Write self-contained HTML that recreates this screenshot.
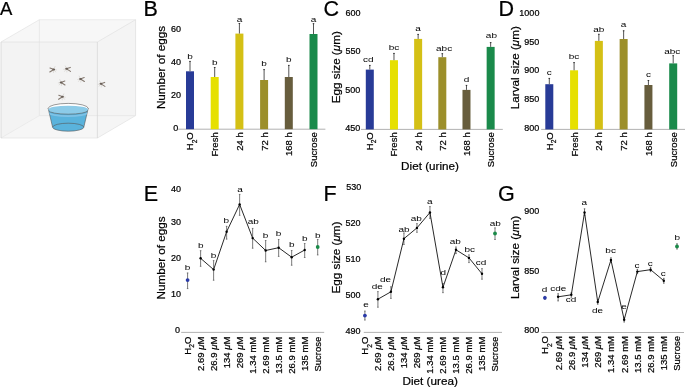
<!DOCTYPE html><html><head><meta charset="utf-8"><style>html,body{margin:0;padding:0;background:#fff;}svg{display:block;will-change:transform;} text{stroke:#000;stroke-width:0.22px;}</style></head><body>
<svg width="685" height="388" viewBox="0 0 685 388" font-family='"Liberation Sans", sans-serif' fill="#000">
<rect width="685" height="388" fill="#fff"/>
<text x="-0.1" y="14.8" font-size="18.5">A</text>
<polygon points="1,42 39.4,19.7 135.6,19.7 97.4,42" fill="#f7f7f7"/>
<polygon points="97.4,42 135.6,19.7 135.6,115.6 97.4,138" fill="#f4f4f4"/>
<rect x="1" y="42" width="96.4" height="96" fill="#f3f3f3"/>
<polygon points="1,138 39.4,115.6 97.4,115.6 97.4,138" fill="#f6f6f6"/>
<polygon points="97.4,115.6 135.6,115.6 97.4,138" fill="#f5f5f5"/>
<line x1="39.4" y1="19.7" x2="39.4" y2="115.6" stroke="#e4e4e4" stroke-width="0.7"/>
<line x1="39.4" y1="115.6" x2="135.6" y2="115.6" stroke="#e4e4e4" stroke-width="0.7"/>
<line x1="1" y1="138" x2="39.4" y2="115.6" stroke="#e6e6e6" stroke-width="0.7"/>
<line x1="1" y1="42" x2="39.4" y2="19.7" stroke="#e2e2e2" stroke-width="0.7"/>
<line x1="39.4" y1="19.7" x2="135.6" y2="19.7" stroke="#e6e6e6" stroke-width="0.7"/>
<line x1="97.4" y1="42" x2="135.6" y2="19.7" stroke="#e0e0e0" stroke-width="0.7"/>
<line x1="135.6" y1="19.7" x2="135.6" y2="115.6" stroke="#dcdcdc" stroke-width="0.7"/>
<line x1="97.4" y1="138" x2="135.6" y2="115.6" stroke="#e2e2e2" stroke-width="0.7"/>
<line x1="1" y1="42" x2="97.4" y2="42" stroke="#e0e0e0" stroke-width="0.7"/>
<line x1="1" y1="138" x2="97.4" y2="138" stroke="#e2e2e2" stroke-width="0.7"/>
<line x1="1" y1="42" x2="1" y2="138" stroke="#d4d4d4" stroke-width="0.8"/>
<line x1="97.4" y1="42" x2="97.4" y2="138" stroke="#d8d8d8" stroke-width="0.8"/>
<path d="M48.2,108.4 L52.6,127.2 A15.6,4 0 0 0 83.8,127.2 L88.2,108.4 Z" fill="#5ab3dc" stroke="#555" stroke-width="0.6"/>
<ellipse cx="68.2" cy="108.4" rx="20" ry="5" fill="#ffffff" stroke="#555" stroke-width="0.6"/>
<path d="M48.9,110.6 A19.3,3.6 0 0 0 87.5,110.6 L88.0,109.6 A19.8,3.9 0 0 0 48.4,109.6 Z" fill="#8ccbe8"/>
<path d="M49.0,111.8 L49.5,113.8 A18.7,3.2 0 0 0 86.9,113.8 L87.4,111.8 A19.2,3.5 0 0 1 49.0,111.8 Z" fill="#7fc2e6"/>
<path d="M48.9,110.6 A19.3,3.6 0 0 0 87.5,110.6" fill="none" stroke="#555" stroke-width="0.6"/>
<path d="M52.6,127.2 A15.6,4 0 0 1 83.8,127.2" fill="none" stroke="#555" stroke-width="0.6"/>
<g transform="translate(53.7,69.4) scale(-1,1)"><g stroke="#b8b0a8" stroke-width="0.35" fill="none"><path d="M0,0 L-1.5,-3.2"/><path d="M0,0 L-2.2,2.8"/><path d="M0.6,0.4 L0.2,3.6"/><path d="M-0.4,0 L-3.2,0.6"/></g><g stroke="#857a71" stroke-width="1.1" stroke-linecap="round" fill="none"><path d="M0.4,-0.2 L3.7,-1.4"/><path d="M0.4,0.3 L3.9,2.6"/></g><ellipse cx="0" cy="0" rx="1.4" ry="1.0" fill="#685e56"/></g>
<g transform="translate(66.6,68.8) scale(1,1)"><g stroke="#b8b0a8" stroke-width="0.35" fill="none"><path d="M0,0 L-1.5,-3.2"/><path d="M0,0 L-2.2,2.8"/><path d="M0.6,0.4 L0.2,3.6"/><path d="M-0.4,0 L-3.2,0.6"/></g><g stroke="#857a71" stroke-width="1.1" stroke-linecap="round" fill="none"><path d="M0.4,-0.2 L3.7,-1.4"/><path d="M0.4,0.3 L3.9,2.6"/></g><ellipse cx="0" cy="0" rx="1.4" ry="1.0" fill="#685e56"/></g>
<g transform="translate(61.1,82.4) scale(1,1)"><g stroke="#b8b0a8" stroke-width="0.35" fill="none"><path d="M0,0 L-1.5,-3.2"/><path d="M0,0 L-2.2,2.8"/><path d="M0.6,0.4 L0.2,3.6"/><path d="M-0.4,0 L-3.2,0.6"/></g><g stroke="#857a71" stroke-width="1.1" stroke-linecap="round" fill="none"><path d="M0.4,-0.2 L3.7,-1.4"/><path d="M0.4,0.3 L3.9,2.6"/></g><ellipse cx="0" cy="0" rx="1.4" ry="1.0" fill="#685e56"/></g>
<g transform="translate(80.5,78.9) scale(1,1)"><g stroke="#b8b0a8" stroke-width="0.35" fill="none"><path d="M0,0 L-1.5,-3.2"/><path d="M0,0 L-2.2,2.8"/><path d="M0.6,0.4 L0.2,3.6"/><path d="M-0.4,0 L-3.2,0.6"/></g><g stroke="#857a71" stroke-width="1.1" stroke-linecap="round" fill="none"><path d="M0.4,-0.2 L3.7,-1.4"/><path d="M0.4,0.3 L3.9,2.6"/></g><ellipse cx="0" cy="0" rx="1.4" ry="1.0" fill="#685e56"/></g>
<g transform="translate(101,83.8) scale(1,1)"><g stroke="#b8b0a8" stroke-width="0.35" fill="none"><path d="M0,0 L-1.5,-3.2"/><path d="M0,0 L-2.2,2.8"/><path d="M0.6,0.4 L0.2,3.6"/><path d="M-0.4,0 L-3.2,0.6"/></g><g stroke="#857a71" stroke-width="1.1" stroke-linecap="round" fill="none"><path d="M0.4,-0.2 L3.7,-1.4"/><path d="M0.4,0.3 L3.9,2.6"/></g><ellipse cx="0" cy="0" rx="1.4" ry="1.0" fill="#685e56"/></g>
<g transform="translate(62.5,96.7) scale(-1,1)"><g stroke="#b8b0a8" stroke-width="0.35" fill="none"><path d="M0,0 L-1.5,-3.2"/><path d="M0,0 L-2.2,2.8"/><path d="M0.6,0.4 L0.2,3.6"/><path d="M-0.4,0 L-3.2,0.6"/></g><g stroke="#857a71" stroke-width="1.1" stroke-linecap="round" fill="none"><path d="M0.4,-0.2 L3.7,-1.4"/><path d="M0.4,0.3 L3.9,2.6"/></g><ellipse cx="0" cy="0" rx="1.4" ry="1.0" fill="#685e56"/></g>
<text x="143.5" y="15.5" font-size="21.5">B</text>
<text transform="translate(164.90,67.50) rotate(-90)" text-anchor="middle" font-size="11.7">Number of eggs</text>
<text x="181.10" y="32.12" text-anchor="end" font-size="9">60</text>
<text x="181.10" y="65.42" text-anchor="end" font-size="9">40</text>
<text x="181.10" y="98.42" text-anchor="end" font-size="9">20</text>
<text x="178.20" y="130.52" text-anchor="end" font-size="9">0</text>
<line x1="178.2" y1="129.2" x2="325.4" y2="129.2" stroke="#a8a8a8" stroke-width="0.9"/>
<rect x="186.00" y="71.30" width="8.0" height="57.90" fill="#283b97"/>
<line x1="190.00" y1="61.00" x2="190.00" y2="71.30" stroke="#555" stroke-width="1"/>
<line x1="189.20" y1="61.40" x2="190.80" y2="61.40" stroke="#222" stroke-width="0.8"/>
<text transform="translate(190.00,58.60) scale(1.43,1)" text-anchor="middle" font-size="7.0" style="stroke:none">b</text>
<rect x="210.70" y="77.00" width="8.0" height="52.20" fill="#e6e000"/>
<line x1="214.70" y1="67.10" x2="214.70" y2="77.00" stroke="#555" stroke-width="1"/>
<line x1="213.90" y1="67.50" x2="215.50" y2="67.50" stroke="#222" stroke-width="0.8"/>
<text transform="translate(214.70,64.50) scale(1.43,1)" text-anchor="middle" font-size="7.0" style="stroke:none">b</text>
<rect x="235.40" y="33.60" width="8.0" height="95.60" fill="#d4c015"/>
<line x1="239.40" y1="23.10" x2="239.40" y2="33.60" stroke="#555" stroke-width="1"/>
<line x1="238.60" y1="23.50" x2="240.20" y2="23.50" stroke="#222" stroke-width="0.8"/>
<text transform="translate(239.40,21.60) scale(1.43,1)" text-anchor="middle" font-size="7.0" style="stroke:none">a</text>
<rect x="260.10" y="80.00" width="8.0" height="49.20" fill="#9c8f2a"/>
<line x1="264.10" y1="69.20" x2="264.10" y2="80.00" stroke="#555" stroke-width="1"/>
<line x1="263.30" y1="69.60" x2="264.90" y2="69.60" stroke="#222" stroke-width="0.8"/>
<text transform="translate(264.10,65.60) scale(1.43,1)" text-anchor="middle" font-size="7.0" style="stroke:none">b</text>
<rect x="284.80" y="77.00" width="8.0" height="52.20" fill="#675d3d"/>
<line x1="288.80" y1="65.00" x2="288.80" y2="77.00" stroke="#555" stroke-width="1"/>
<line x1="288.00" y1="65.40" x2="289.60" y2="65.40" stroke="#222" stroke-width="0.8"/>
<text transform="translate(288.80,62.40) scale(1.43,1)" text-anchor="middle" font-size="7.0" style="stroke:none">b</text>
<rect x="309.50" y="34.00" width="8.0" height="95.20" fill="#1a8a4b"/>
<line x1="313.50" y1="23.30" x2="313.50" y2="34.00" stroke="#555" stroke-width="1"/>
<line x1="312.70" y1="23.70" x2="314.30" y2="23.70" stroke="#222" stroke-width="0.8"/>
<text transform="translate(313.50,21.80) scale(1.43,1)" text-anchor="middle" font-size="7.0" style="stroke:none">a</text>
<text transform="translate(193.42,132.30) rotate(-90)" text-anchor="end" font-size="9.5">H<tspan font-size="6.6" dy="3.2">2</tspan><tspan dy="-3.2">O</tspan></text>
<text transform="translate(218.12,132.30) rotate(-90)" text-anchor="end" font-size="9.5">Fresh</text>
<text transform="translate(242.82,132.30) rotate(-90)" text-anchor="end" font-size="9.5">24 h</text>
<text transform="translate(267.52,132.30) rotate(-90)" text-anchor="end" font-size="9.5">72 h</text>
<text transform="translate(292.22,132.30) rotate(-90)" text-anchor="end" font-size="9.5">168 h</text>
<text transform="translate(316.92,132.30) rotate(-90)" text-anchor="end" font-size="9.5">Sucrose</text>
<text x="323.5" y="15.5" font-size="21.5">C</text>
<text transform="translate(340.10,67.20) rotate(-90)" text-anchor="middle" font-size="11.7">Egg size (<tspan font-style="italic">μ</tspan>m)</text>
<text x="360.60" y="15.52" text-anchor="end" font-size="9">600</text>
<text x="360.60" y="53.72" text-anchor="end" font-size="9">550</text>
<text x="360.40" y="92.82" text-anchor="end" font-size="9">500</text>
<text x="360.40" y="131.22" text-anchor="end" font-size="9">450</text>
<line x1="361" y1="129.4" x2="502.8" y2="129.4" stroke="#a8a8a8" stroke-width="0.9"/>
<rect x="365.80" y="69.60" width="8.0" height="59.80" fill="#283b97"/>
<line x1="369.80" y1="65.00" x2="369.80" y2="69.60" stroke="#555" stroke-width="1"/>
<line x1="369.00" y1="65.40" x2="370.60" y2="65.40" stroke="#222" stroke-width="0.8"/>
<text transform="translate(368.20,62.30) scale(1.43,1)" text-anchor="middle" font-size="7.0" style="stroke:none">cd</text>
<rect x="389.97" y="60.20" width="8.0" height="69.20" fill="#e6e000"/>
<line x1="393.97" y1="53.00" x2="393.97" y2="60.20" stroke="#555" stroke-width="1"/>
<line x1="393.17" y1="53.40" x2="394.77" y2="53.40" stroke="#222" stroke-width="0.8"/>
<text transform="translate(393.97,50.00) scale(1.43,1)" text-anchor="middle" font-size="7.0" style="stroke:none">bc</text>
<rect x="414.14" y="38.90" width="8.0" height="90.50" fill="#d4c015"/>
<line x1="418.14" y1="34.00" x2="418.14" y2="38.90" stroke="#555" stroke-width="1"/>
<line x1="417.34" y1="34.40" x2="418.94" y2="34.40" stroke="#222" stroke-width="0.8"/>
<text transform="translate(418.14,31.30) scale(1.43,1)" text-anchor="middle" font-size="7.0" style="stroke:none">a</text>
<rect x="438.31" y="57.20" width="8.0" height="72.20" fill="#9c8f2a"/>
<line x1="442.31" y1="53.30" x2="442.31" y2="57.20" stroke="#555" stroke-width="1"/>
<line x1="441.51" y1="53.70" x2="443.11" y2="53.70" stroke="#222" stroke-width="0.8"/>
<text transform="translate(444.10,50.50) scale(1.43,1)" text-anchor="middle" font-size="7.0" style="stroke:none">abc</text>
<rect x="462.48" y="89.90" width="8.0" height="39.50" fill="#675d3d"/>
<line x1="466.48" y1="85.00" x2="466.48" y2="89.90" stroke="#555" stroke-width="1"/>
<line x1="465.68" y1="85.40" x2="467.28" y2="85.40" stroke="#222" stroke-width="0.8"/>
<text transform="translate(466.48,81.60) scale(1.43,1)" text-anchor="middle" font-size="7.0" style="stroke:none">d</text>
<rect x="486.65" y="46.90" width="8.0" height="82.50" fill="#1a8a4b"/>
<line x1="490.65" y1="42.20" x2="490.65" y2="46.90" stroke="#555" stroke-width="1"/>
<line x1="489.85" y1="42.60" x2="491.45" y2="42.60" stroke="#222" stroke-width="0.8"/>
<text transform="translate(491.40,37.80) scale(1.43,1)" text-anchor="middle" font-size="7.0" style="stroke:none">ab</text>
<text transform="translate(373.22,132.30) rotate(-90)" text-anchor="end" font-size="9.5">H<tspan font-size="6.6" dy="3.2">2</tspan><tspan dy="-3.2">O</tspan></text>
<text transform="translate(397.39,132.30) rotate(-90)" text-anchor="end" font-size="9.5">Fresh</text>
<text transform="translate(421.56,132.30) rotate(-90)" text-anchor="end" font-size="9.5">24 h</text>
<text transform="translate(445.73,132.30) rotate(-90)" text-anchor="end" font-size="9.5">72 h</text>
<text transform="translate(469.90,132.30) rotate(-90)" text-anchor="end" font-size="9.5">168 h</text>
<text transform="translate(494.07,132.30) rotate(-90)" text-anchor="end" font-size="9.5">Sucrose</text>
<text x="430" y="169.5" text-anchor="middle" font-size="11.7">Diet (urine)</text>
<text x="498.6" y="15.5" font-size="21.5">D</text>
<text transform="translate(519.10,67.70) rotate(-90)" text-anchor="middle" font-size="11.7">Larval size (<tspan font-style="italic">μ</tspan>m)</text>
<text x="539.40" y="15.62" text-anchor="end" font-size="9">1000</text>
<text x="539.40" y="44.52" text-anchor="end" font-size="9">950</text>
<text x="539.40" y="73.42" text-anchor="end" font-size="9">900</text>
<text x="539.40" y="102.32" text-anchor="end" font-size="9">850</text>
<text x="539.40" y="131.22" text-anchor="end" font-size="9">800</text>
<line x1="541.2" y1="129.4" x2="685" y2="129.4" stroke="#a8a8a8" stroke-width="0.9"/>
<rect x="545.30" y="84.20" width="8.0" height="45.20" fill="#283b97"/>
<line x1="549.30" y1="78.00" x2="549.30" y2="84.20" stroke="#555" stroke-width="1"/>
<line x1="548.50" y1="78.40" x2="550.10" y2="78.40" stroke="#222" stroke-width="0.8"/>
<text transform="translate(549.30,75.00) scale(1.43,1)" text-anchor="middle" font-size="7.0" style="stroke:none">c</text>
<rect x="570.08" y="70.30" width="8.0" height="59.10" fill="#e6e000"/>
<line x1="574.08" y1="62.20" x2="574.08" y2="70.30" stroke="#555" stroke-width="1"/>
<line x1="573.28" y1="62.60" x2="574.88" y2="62.60" stroke="#222" stroke-width="0.8"/>
<text transform="translate(574.08,59.20) scale(1.43,1)" text-anchor="middle" font-size="7.0" style="stroke:none">bc</text>
<rect x="594.86" y="40.90" width="8.0" height="88.50" fill="#d4c015"/>
<line x1="598.86" y1="33.90" x2="598.86" y2="40.90" stroke="#555" stroke-width="1"/>
<line x1="598.06" y1="34.30" x2="599.66" y2="34.30" stroke="#222" stroke-width="0.8"/>
<text transform="translate(598.86,31.60) scale(1.43,1)" text-anchor="middle" font-size="7.0" style="stroke:none">ab</text>
<rect x="619.64" y="39.00" width="8.0" height="90.40" fill="#9c8f2a"/>
<line x1="623.64" y1="30.40" x2="623.64" y2="39.00" stroke="#555" stroke-width="1"/>
<line x1="622.84" y1="30.80" x2="624.44" y2="30.80" stroke="#222" stroke-width="0.8"/>
<text transform="translate(623.64,26.70) scale(1.43,1)" text-anchor="middle" font-size="7.0" style="stroke:none">a</text>
<rect x="644.42" y="85.00" width="8.0" height="44.40" fill="#675d3d"/>
<line x1="648.42" y1="80.10" x2="648.42" y2="85.00" stroke="#555" stroke-width="1"/>
<line x1="647.62" y1="80.50" x2="649.22" y2="80.50" stroke="#222" stroke-width="0.8"/>
<text transform="translate(648.42,77.30) scale(1.43,1)" text-anchor="middle" font-size="7.0" style="stroke:none">c</text>
<rect x="669.20" y="63.40" width="8.0" height="66.00" fill="#1a8a4b"/>
<line x1="673.20" y1="55.30" x2="673.20" y2="63.40" stroke="#555" stroke-width="1"/>
<line x1="672.40" y1="55.70" x2="674.00" y2="55.70" stroke="#222" stroke-width="0.8"/>
<text transform="translate(672.30,54.10) scale(1.43,1)" text-anchor="middle" font-size="7.0" style="stroke:none">abc</text>
<text transform="translate(552.72,132.30) rotate(-90)" text-anchor="end" font-size="9.5">H<tspan font-size="6.6" dy="3.2">2</tspan><tspan dy="-3.2">O</tspan></text>
<text transform="translate(577.50,132.30) rotate(-90)" text-anchor="end" font-size="9.5">Fresh</text>
<text transform="translate(602.28,132.30) rotate(-90)" text-anchor="end" font-size="9.5">24 h</text>
<text transform="translate(627.06,132.30) rotate(-90)" text-anchor="end" font-size="9.5">72 h</text>
<text transform="translate(651.84,132.30) rotate(-90)" text-anchor="end" font-size="9.5">168 h</text>
<text transform="translate(676.62,132.30) rotate(-90)" text-anchor="end" font-size="9.5">Sucrose</text>
<text x="143.8" y="200.7" font-size="21.5">E</text>
<text transform="translate(164.90,257.90) rotate(-90)" text-anchor="middle" font-size="11.7">Number of eggs</text>
<text x="181.10" y="191.52" text-anchor="end" font-size="9">40</text>
<text x="181.10" y="225.02" text-anchor="end" font-size="9">30</text>
<text x="181.10" y="261.22" text-anchor="end" font-size="9">20</text>
<text x="180.90" y="297.42" text-anchor="end" font-size="9">10</text>
<text x="180.00" y="333.02" text-anchor="end" font-size="9">0</text>
<line x1="181.2" y1="332.4" x2="324.2" y2="332.4" stroke="#a8a8a8" stroke-width="0.9"/>
<line x1="187.60" y1="272.70" x2="187.60" y2="288.90" stroke="#7a7a7a" stroke-width="1.0"/>
<path d="M186.80,273.00h1.6M186.80,288.60h1.6" stroke="#555" stroke-width="0.6"/>
<line x1="200.61" y1="250.40" x2="200.61" y2="266.60" stroke="#7a7a7a" stroke-width="1.0"/>
<path d="M199.81,250.70h1.6M199.81,266.30h1.6" stroke="#555" stroke-width="0.6"/>
<line x1="213.62" y1="260.30" x2="213.62" y2="280.50" stroke="#7a7a7a" stroke-width="1.0"/>
<path d="M212.82,260.60h1.6M212.82,280.20h1.6" stroke="#555" stroke-width="0.6"/>
<line x1="226.63" y1="226.00" x2="226.63" y2="239.40" stroke="#7a7a7a" stroke-width="1.0"/>
<path d="M225.83,226.30h1.6M225.83,239.10h1.6" stroke="#555" stroke-width="0.6"/>
<line x1="239.64" y1="194.10" x2="239.64" y2="215.60" stroke="#7a7a7a" stroke-width="1.0"/>
<path d="M238.84,194.40h1.6M238.84,215.30h1.6" stroke="#555" stroke-width="0.6"/>
<line x1="252.65" y1="228.10" x2="252.65" y2="248.50" stroke="#7a7a7a" stroke-width="1.0"/>
<path d="M251.85,228.40h1.6M251.85,248.20h1.6" stroke="#555" stroke-width="0.6"/>
<line x1="265.66" y1="240.20" x2="265.66" y2="262.10" stroke="#7a7a7a" stroke-width="1.0"/>
<path d="M264.86,240.50h1.6M264.86,261.80h1.6" stroke="#555" stroke-width="0.6"/>
<line x1="278.67" y1="239.20" x2="278.67" y2="256.70" stroke="#7a7a7a" stroke-width="1.0"/>
<path d="M277.87,239.50h1.6M277.87,256.40h1.6" stroke="#555" stroke-width="0.6"/>
<line x1="291.68" y1="250.20" x2="291.68" y2="265.50" stroke="#7a7a7a" stroke-width="1.0"/>
<path d="M290.88,250.50h1.6M290.88,265.20h1.6" stroke="#555" stroke-width="0.6"/>
<line x1="304.69" y1="243.20" x2="304.69" y2="257.80" stroke="#7a7a7a" stroke-width="1.0"/>
<path d="M303.89,243.50h1.6M303.89,257.50h1.6" stroke="#555" stroke-width="0.6"/>
<line x1="317.70" y1="239.20" x2="317.70" y2="255.20" stroke="#7a7a7a" stroke-width="1.0"/>
<path d="M316.90,239.50h1.6M316.90,254.90h1.6" stroke="#555" stroke-width="0.6"/>
<polyline points="200.61,258.30 213.62,269.60 226.63,231.70 239.64,204.40 252.65,238.10 265.66,250.50 278.67,247.70 291.68,257.20 304.69,250.00" fill="none" stroke="#111" stroke-width="0.9"/>
<circle cx="187.60" cy="280.10" r="1.9" fill="#2a3aa8"/>
<circle cx="200.61" cy="258.30" r="1.2" fill="#000"/>
<circle cx="213.62" cy="269.60" r="1.2" fill="#000"/>
<circle cx="226.63" cy="231.70" r="1.2" fill="#000"/>
<circle cx="239.64" cy="204.40" r="1.2" fill="#000"/>
<circle cx="252.65" cy="238.10" r="1.2" fill="#000"/>
<circle cx="265.66" cy="250.50" r="1.2" fill="#000"/>
<circle cx="278.67" cy="247.70" r="1.2" fill="#000"/>
<circle cx="291.68" cy="257.20" r="1.2" fill="#000"/>
<circle cx="304.69" cy="250.00" r="1.2" fill="#000"/>
<circle cx="317.70" cy="247.00" r="1.9" fill="#1a8a48"/>
<text transform="translate(187.60,270.00) scale(1.43,1)" text-anchor="middle" font-size="7.0" style="stroke:none">b</text>
<text transform="translate(200.80,248.00) scale(1.43,1)" text-anchor="middle" font-size="7.0" style="stroke:none">b</text>
<text transform="translate(213.40,258.00) scale(1.43,1)" text-anchor="middle" font-size="7.0" style="stroke:none">b</text>
<text transform="translate(226.30,222.90) scale(1.43,1)" text-anchor="middle" font-size="7.0" style="stroke:none">b</text>
<text transform="translate(239.90,192.40) scale(1.43,1)" text-anchor="middle" font-size="7.0" style="stroke:none">a</text>
<text transform="translate(253.30,223.70) scale(1.43,1)" text-anchor="middle" font-size="7.0" style="stroke:none">ab</text>
<text transform="translate(265.60,237.70) scale(1.43,1)" text-anchor="middle" font-size="7.0" style="stroke:none">b</text>
<text transform="translate(278.60,236.10) scale(1.43,1)" text-anchor="middle" font-size="7.0" style="stroke:none">b</text>
<text transform="translate(291.70,246.60) scale(1.43,1)" text-anchor="middle" font-size="7.0" style="stroke:none">b</text>
<text transform="translate(304.80,240.90) scale(1.43,1)" text-anchor="middle" font-size="7.0" style="stroke:none">b</text>
<text transform="translate(317.70,237.70) scale(1.43,1)" text-anchor="middle" font-size="7.0" style="stroke:none">b</text>
<text transform="translate(191.02,336.70) rotate(-90)" text-anchor="end" font-size="9.5">H<tspan font-size="6.6" dy="3.2">2</tspan><tspan dy="-3.2">O</tspan></text>
<text transform="translate(204.03,336.70) rotate(-90)" text-anchor="end" font-size="9.5">2.69 <tspan font-style="italic">μ</tspan>M</text>
<text transform="translate(217.04,336.70) rotate(-90)" text-anchor="end" font-size="9.5">26.9 <tspan font-style="italic">μ</tspan>M</text>
<text transform="translate(230.05,336.70) rotate(-90)" text-anchor="end" font-size="9.5">134 <tspan font-style="italic">μ</tspan>M</text>
<text transform="translate(243.06,336.70) rotate(-90)" text-anchor="end" font-size="9.5">269 <tspan font-style="italic">μ</tspan>M</text>
<text transform="translate(256.07,336.70) rotate(-90)" text-anchor="end" font-size="9.5">1.34 mM</text>
<text transform="translate(269.08,336.70) rotate(-90)" text-anchor="end" font-size="9.5">2.69 mM</text>
<text transform="translate(282.09,336.70) rotate(-90)" text-anchor="end" font-size="9.5">13.5 mM</text>
<text transform="translate(295.10,336.70) rotate(-90)" text-anchor="end" font-size="9.5">26.9 mM</text>
<text transform="translate(308.11,336.70) rotate(-90)" text-anchor="end" font-size="9.5">135 mM</text>
<text transform="translate(321.12,336.70) rotate(-90)" text-anchor="end" font-size="9.5">Sucrose</text>
<text x="323.5" y="200.5" font-size="21.5">F</text>
<text transform="translate(340.10,257.50) rotate(-90)" text-anchor="middle" font-size="11.7">Egg size (<tspan font-style="italic">μ</tspan>m)</text>
<text x="361.40" y="190.42" text-anchor="end" font-size="9">530</text>
<text x="360.60" y="225.92" text-anchor="end" font-size="9">520</text>
<text x="360.60" y="262.02" text-anchor="end" font-size="9">510</text>
<text x="360.60" y="297.72" text-anchor="end" font-size="9">500</text>
<text x="360.60" y="334.42" text-anchor="end" font-size="9">490</text>
<line x1="363.8" y1="332.4" x2="502" y2="332.4" stroke="#a8a8a8" stroke-width="0.9"/>
<line x1="364.90" y1="310.80" x2="364.90" y2="320.30" stroke="#6a6a6a" stroke-width="0.9"/>
<path d="M364.10,311.10h1.6M364.10,320.00h1.6" stroke="#555" stroke-width="0.6"/>
<line x1="377.91" y1="291.30" x2="377.91" y2="307.50" stroke="#6a6a6a" stroke-width="0.9"/>
<path d="M377.11,291.60h1.6M377.11,307.20h1.6" stroke="#555" stroke-width="0.6"/>
<line x1="390.92" y1="286.50" x2="390.92" y2="298.70" stroke="#6a6a6a" stroke-width="0.9"/>
<path d="M390.12,286.80h1.6M390.12,298.40h1.6" stroke="#555" stroke-width="0.6"/>
<line x1="403.93" y1="232.70" x2="403.93" y2="244.80" stroke="#6a6a6a" stroke-width="0.9"/>
<path d="M403.13,233.00h1.6M403.13,244.50h1.6" stroke="#555" stroke-width="0.6"/>
<line x1="416.94" y1="223.30" x2="416.94" y2="232.60" stroke="#6a6a6a" stroke-width="0.9"/>
<path d="M416.14,223.60h1.6M416.14,232.30h1.6" stroke="#555" stroke-width="0.6"/>
<line x1="429.95" y1="206.30" x2="429.95" y2="218.70" stroke="#6a6a6a" stroke-width="0.9"/>
<path d="M429.15,206.60h1.6M429.15,218.40h1.6" stroke="#555" stroke-width="0.6"/>
<line x1="442.96" y1="283.20" x2="442.96" y2="293.00" stroke="#6a6a6a" stroke-width="0.9"/>
<path d="M442.16,283.50h1.6M442.16,292.70h1.6" stroke="#555" stroke-width="0.6"/>
<line x1="455.97" y1="246.70" x2="455.97" y2="253.90" stroke="#6a6a6a" stroke-width="0.9"/>
<path d="M455.17,247.00h1.6M455.17,253.60h1.6" stroke="#555" stroke-width="0.6"/>
<line x1="468.98" y1="254.60" x2="468.98" y2="262.90" stroke="#6a6a6a" stroke-width="0.9"/>
<path d="M468.18,254.90h1.6M468.18,262.60h1.6" stroke="#555" stroke-width="0.6"/>
<line x1="481.99" y1="268.30" x2="481.99" y2="279.50" stroke="#6a6a6a" stroke-width="0.9"/>
<path d="M481.19,268.60h1.6M481.19,279.20h1.6" stroke="#555" stroke-width="0.6"/>
<line x1="495.00" y1="227.60" x2="495.00" y2="239.80" stroke="#6a6a6a" stroke-width="0.9"/>
<path d="M494.20,227.90h1.6M494.20,239.50h1.6" stroke="#555" stroke-width="0.6"/>
<polyline points="377.91,299.20 390.92,291.80 403.93,238.70 416.94,227.90 429.95,212.50 442.96,287.30 455.97,249.80 468.98,257.90 481.99,273.80" fill="none" stroke="#111" stroke-width="0.9"/>
<circle cx="364.90" cy="315.60" r="1.9" fill="#2a3aa8"/>
<circle cx="377.91" cy="299.20" r="1.2" fill="#000"/>
<circle cx="390.92" cy="291.80" r="1.2" fill="#000"/>
<circle cx="403.93" cy="238.70" r="1.2" fill="#000"/>
<circle cx="416.94" cy="227.90" r="1.2" fill="#000"/>
<circle cx="429.95" cy="212.50" r="1.2" fill="#000"/>
<circle cx="442.96" cy="287.30" r="1.2" fill="#000"/>
<circle cx="455.97" cy="249.80" r="1.2" fill="#000"/>
<circle cx="468.98" cy="257.90" r="1.2" fill="#000"/>
<circle cx="481.99" cy="273.80" r="1.2" fill="#000"/>
<circle cx="495.00" cy="233.50" r="1.9" fill="#1a8a48"/>
<text transform="translate(366.00,306.80) scale(1.43,1)" text-anchor="middle" font-size="7.0" style="stroke:none">e</text>
<text transform="translate(377.30,288.50) scale(1.43,1)" text-anchor="middle" font-size="7.0" style="stroke:none">de</text>
<text transform="translate(385.60,281.80) scale(1.43,1)" text-anchor="middle" font-size="7.0" style="stroke:none">de</text>
<text transform="translate(404.00,232.30) scale(1.43,1)" text-anchor="middle" font-size="7.0" style="stroke:none">ab</text>
<text transform="translate(416.30,220.50) scale(1.43,1)" text-anchor="middle" font-size="7.0" style="stroke:none">ab</text>
<text transform="translate(429.80,204.40) scale(1.43,1)" text-anchor="middle" font-size="7.0" style="stroke:none">a</text>
<text transform="translate(443.30,274.70) scale(1.43,1)" text-anchor="middle" font-size="7.0" style="stroke:none">d</text>
<text transform="translate(455.30,244.40) scale(1.43,1)" text-anchor="middle" font-size="7.0" style="stroke:none">ab</text>
<text transform="translate(469.70,251.60) scale(1.43,1)" text-anchor="middle" font-size="7.0" style="stroke:none">bc</text>
<text transform="translate(481.00,265.10) scale(1.43,1)" text-anchor="middle" font-size="7.0" style="stroke:none">cd</text>
<text transform="translate(495.30,225.80) scale(1.43,1)" text-anchor="middle" font-size="7.0" style="stroke:none">ab</text>
<text transform="translate(368.32,336.70) rotate(-90)" text-anchor="end" font-size="9.5">H<tspan font-size="6.6" dy="3.2">2</tspan><tspan dy="-3.2">O</tspan></text>
<text transform="translate(381.33,336.70) rotate(-90)" text-anchor="end" font-size="9.5">2.69 <tspan font-style="italic">μ</tspan>M</text>
<text transform="translate(394.34,336.70) rotate(-90)" text-anchor="end" font-size="9.5">26.9 <tspan font-style="italic">μ</tspan>M</text>
<text transform="translate(407.35,336.70) rotate(-90)" text-anchor="end" font-size="9.5">134 <tspan font-style="italic">μ</tspan>M</text>
<text transform="translate(420.36,336.70) rotate(-90)" text-anchor="end" font-size="9.5">269 <tspan font-style="italic">μ</tspan>M</text>
<text transform="translate(433.37,336.70) rotate(-90)" text-anchor="end" font-size="9.5">1.34 mM</text>
<text transform="translate(446.38,336.70) rotate(-90)" text-anchor="end" font-size="9.5">2.69 mM</text>
<text transform="translate(459.39,336.70) rotate(-90)" text-anchor="end" font-size="9.5">13.5 mM</text>
<text transform="translate(472.40,336.70) rotate(-90)" text-anchor="end" font-size="9.5">26.9 mM</text>
<text transform="translate(485.41,336.70) rotate(-90)" text-anchor="end" font-size="9.5">135 mM</text>
<text transform="translate(498.42,336.70) rotate(-90)" text-anchor="end" font-size="9.5">Sucrose</text>
<text x="430.2" y="385" text-anchor="middle" font-size="11.7">Diet (urea)</text>
<text x="498" y="200.6" font-size="21.5">G</text>
<text transform="translate(519.10,257.40) rotate(-90)" text-anchor="middle" font-size="11.7">Larval size (<tspan font-style="italic">μ</tspan>m)</text>
<text x="539.30" y="213.72" text-anchor="end" font-size="9">900</text>
<text x="539.30" y="273.52" text-anchor="end" font-size="9">850</text>
<text x="539.30" y="333.32" text-anchor="end" font-size="9">800</text>
<line x1="541.4" y1="332.5" x2="684" y2="332.5" stroke="#a8a8a8" stroke-width="0.9"/>
<line x1="544.90" y1="296.00" x2="544.90" y2="299.60" stroke="#5a5a5a" stroke-width="0.9"/>
<path d="M544.10,296.30h1.6M544.10,299.30h1.6" stroke="#555" stroke-width="0.6"/>
<line x1="558.11" y1="293.40" x2="558.11" y2="301.20" stroke="#5a5a5a" stroke-width="0.9"/>
<path d="M557.31,293.70h1.6M557.31,300.90h1.6" stroke="#555" stroke-width="0.6"/>
<line x1="571.32" y1="292.50" x2="571.32" y2="297.50" stroke="#5a5a5a" stroke-width="0.9"/>
<path d="M570.52,292.80h1.6M570.52,297.20h1.6" stroke="#555" stroke-width="0.6"/>
<line x1="584.53" y1="208.50" x2="584.53" y2="215.80" stroke="#5a5a5a" stroke-width="0.9"/>
<path d="M583.73,208.80h1.6M583.73,215.50h1.6" stroke="#555" stroke-width="0.6"/>
<line x1="597.74" y1="299.50" x2="597.74" y2="304.50" stroke="#5a5a5a" stroke-width="0.9"/>
<path d="M596.94,299.80h1.6M596.94,304.20h1.6" stroke="#555" stroke-width="0.6"/>
<line x1="610.95" y1="257.50" x2="610.95" y2="262.50" stroke="#5a5a5a" stroke-width="0.9"/>
<path d="M610.15,257.80h1.6M610.15,262.20h1.6" stroke="#555" stroke-width="0.6"/>
<line x1="624.16" y1="317.00" x2="624.16" y2="322.30" stroke="#5a5a5a" stroke-width="0.9"/>
<path d="M623.36,317.30h1.6M623.36,322.00h1.6" stroke="#555" stroke-width="0.6"/>
<line x1="637.37" y1="269.00" x2="637.37" y2="274.00" stroke="#5a5a5a" stroke-width="0.9"/>
<path d="M636.57,269.30h1.6M636.57,273.70h1.6" stroke="#555" stroke-width="0.6"/>
<line x1="650.58" y1="267.00" x2="650.58" y2="272.00" stroke="#5a5a5a" stroke-width="0.9"/>
<path d="M649.78,267.30h1.6M649.78,271.70h1.6" stroke="#555" stroke-width="0.6"/>
<line x1="663.79" y1="278.00" x2="663.79" y2="283.50" stroke="#5a5a5a" stroke-width="0.9"/>
<path d="M662.99,278.30h1.6M662.99,283.20h1.6" stroke="#555" stroke-width="0.6"/>
<line x1="677.00" y1="243.50" x2="677.00" y2="249.30" stroke="#5a5a5a" stroke-width="0.9"/>
<path d="M676.20,243.80h1.6M676.20,249.00h1.6" stroke="#555" stroke-width="0.6"/>
<polyline points="558.11,296.80 571.32,294.80 584.53,212.50 597.74,302.00 610.95,260.00 624.16,319.70 637.37,271.60 650.58,269.70 663.79,280.70" fill="none" stroke="#111" stroke-width="0.9"/>
<circle cx="544.90" cy="297.80" r="1.9" fill="#2a3aa8"/>
<circle cx="558.11" cy="296.80" r="1.2" fill="#000"/>
<circle cx="571.32" cy="294.80" r="1.2" fill="#000"/>
<circle cx="584.53" cy="212.50" r="1.2" fill="#000"/>
<circle cx="597.74" cy="302.00" r="1.2" fill="#000"/>
<circle cx="610.95" cy="260.00" r="1.2" fill="#000"/>
<circle cx="624.16" cy="319.70" r="1.2" fill="#000"/>
<circle cx="637.37" cy="271.60" r="1.2" fill="#000"/>
<circle cx="650.58" cy="269.70" r="1.2" fill="#000"/>
<circle cx="663.79" cy="280.70" r="1.2" fill="#000"/>
<circle cx="677.00" cy="246.40" r="1.9" fill="#1a8a48"/>
<text transform="translate(544.60,292.00) scale(1.43,1)" text-anchor="middle" font-size="7.0" style="stroke:none">d</text>
<text transform="translate(558.20,290.70) scale(1.43,1)" text-anchor="middle" font-size="7.0" style="stroke:none">cde</text>
<text transform="translate(571.00,302.10) scale(1.43,1)" text-anchor="middle" font-size="7.0" style="stroke:none">cd</text>
<text transform="translate(584.30,205.40) scale(1.43,1)" text-anchor="middle" font-size="7.0" style="stroke:none">a</text>
<text transform="translate(597.60,312.70) scale(1.43,1)" text-anchor="middle" font-size="7.0" style="stroke:none">de</text>
<text transform="translate(610.60,252.90) scale(1.43,1)" text-anchor="middle" font-size="7.0" style="stroke:none">bc</text>
<text transform="translate(624.00,309.00) scale(1.43,1)" text-anchor="middle" font-size="7.0" style="stroke:none">e</text>
<text transform="translate(637.10,267.50) scale(1.43,1)" text-anchor="middle" font-size="7.0" style="stroke:none">c</text>
<text transform="translate(650.20,265.50) scale(1.43,1)" text-anchor="middle" font-size="7.0" style="stroke:none">c</text>
<text transform="translate(663.20,276.30) scale(1.43,1)" text-anchor="middle" font-size="7.0" style="stroke:none">c</text>
<text transform="translate(677.30,240.40) scale(1.43,1)" text-anchor="middle" font-size="7.0" style="stroke:none">b</text>
<text transform="translate(548.32,336.00) rotate(-90)" text-anchor="end" font-size="9.5">H<tspan font-size="6.6" dy="3.2">2</tspan><tspan dy="-3.2">O</tspan></text>
<text transform="translate(561.53,336.00) rotate(-90)" text-anchor="end" font-size="9.5">2.69 <tspan font-style="italic">μ</tspan>M</text>
<text transform="translate(574.74,336.00) rotate(-90)" text-anchor="end" font-size="9.5">26.9 <tspan font-style="italic">μ</tspan>M</text>
<text transform="translate(587.95,336.00) rotate(-90)" text-anchor="end" font-size="9.5">134 <tspan font-style="italic">μ</tspan>M</text>
<text transform="translate(601.16,336.00) rotate(-90)" text-anchor="end" font-size="9.5">269 <tspan font-style="italic">μ</tspan>M</text>
<text transform="translate(614.37,336.00) rotate(-90)" text-anchor="end" font-size="9.5">1.34 mM</text>
<text transform="translate(627.58,336.00) rotate(-90)" text-anchor="end" font-size="9.5">2.69 mM</text>
<text transform="translate(640.79,336.00) rotate(-90)" text-anchor="end" font-size="9.5">13.5 mM</text>
<text transform="translate(654.00,336.00) rotate(-90)" text-anchor="end" font-size="9.5">26.9 mM</text>
<text transform="translate(667.21,336.00) rotate(-90)" text-anchor="end" font-size="9.5">135 mM</text>
<text transform="translate(680.42,336.00) rotate(-90)" text-anchor="end" font-size="9.5">Sucrose</text>
</svg></body></html>
